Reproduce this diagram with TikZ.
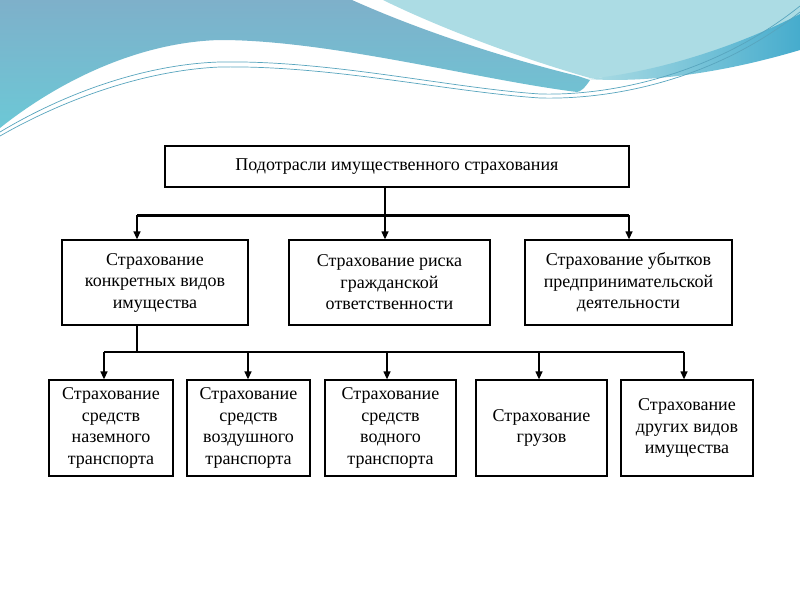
\documentclass[tikz,border=0pt]{standalone}
\usepackage{fontspec}
\setmainfont{Liberation Serif}
\usetikzlibrary{arrows.meta}
\definecolor{waveA}{RGB}{126,176,202}
\definecolor{waveB}{RGB}{108,200,214}
\definecolor{waveC}{RGB}{172,220,228}
\definecolor{waveD}{RGB}{70,172,205}
\definecolor{waveLine}{RGB}{88,165,190}
\begin{document}
\begin{tikzpicture}[x=1pt,y=-1pt,
  box/.style={draw, line width=1.3pt, fill=white, align=center, inner sep=0pt,
    font=\fontsize{18}{21.5}\selectfont},
  arr/.style={line width=1.3pt, -{Triangle[width=7pt,length=8pt]}},
  conn/.style={line width=1.3pt},
  bus/.style={line width=3pt},
  wline/.style={draw=waveLine, line width=0.7pt}]
\useasboundingbox (0,0) rectangle (800,600);
\fill[white] (0,0) rectangle (800,600);
% decorative wave
\shade[top color=waveA, bottom color=waveB]
  (0,0) -- (352,0) .. controls (430,35) and (520,62) .. (578,76)
  -- (590,80) .. controls (585,88) and (580,92) .. (577,92)
  .. controls (480,80) and (330,40) .. (220,40)
  .. controls (140,42) and (60,80) .. (0,128) -- cycle;
\fill[waveC] (383,0) -- (800,0) -- (800,48)
  .. controls (740,62) and (680,76) .. (590,78)
  .. controls (520,58) and (440,28) .. (383,0) -- cycle;
\shade[left color=waveC, right color=waveD]
  (587,79) .. controls (660,72) and (740,45) .. (800,14) -- (800,50)
  .. controls (740,68) and (660,84) .. (587,79) -- cycle;
\draw[wline] (0,132) .. controls (70,90) and (150,64) .. (220,62)
  .. controls (330,60) and (450,88) .. (540,94)
  .. controls (620,96) and (720,70) .. (800,6);
\draw[wline] (0,136) .. controls (70,96) and (150,70) .. (220,67)
  .. controls (330,65) and (450,92) .. (540,98)
  .. controls (620,100) and (720,76) .. (800,12);
% nodes
\node[box, minimum width=464pt, minimum height=41pt] (top) at (397,166.5)
  {Подотрасли имущественного страхования};
\node[box, minimum width=186pt, minimum height=85pt] (m1) at (155,282.5)
  {Страхование\\конкретных видов\\имущества};
\node[box, minimum width=201pt, minimum height=85pt] (m2) at (389.5,282.5)
  {Страхование риска\\гражданской\\ответственности};
\node[box, minimum width=207pt, minimum height=85pt] (m3) at (628.5,282.5)
  {Страхование убытков\\предпринимательской\\деятельности};
\node[box, minimum width=124pt, minimum height=96pt] (b1) at (111,428)
  {Страхование\\средств\\наземного\\транспорта};
\node[box, minimum width=123pt, minimum height=96pt] (b2) at (248.5,428)
  {Страхование\\средств\\воздушного\\транспорта};
\node[box, minimum width=131pt, minimum height=96pt] (b3) at (390.5,428)
  {Страхование\\средств\\водного\\транспорта};
\node[box, minimum width=131pt, minimum height=96pt] (b4) at (541.5,428)
  {Страхование\\грузов};
\node[box, minimum width=132pt, minimum height=96pt] (b5) at (687,428)
  {Страхование\\других видов\\имущества};
% first level connectors
\coordinate (u1) at (137,215);
\coordinate (u2) at (385,215);
\coordinate (u3) at (629,215);
\draw[bus] (u1) -- (u3);
\draw[arr] (top.south -| u2) -- (u2 |- m2.north);
\draw[arr] (u1) -- (u1 |- m1.north);
\draw[arr] (u3) -- (u3 |- m3.north);
% second level connectors
\coordinate (s0) at (137,352);
\coordinate (s1) at (104,352);
\coordinate (s2) at (248,352);
\coordinate (s3) at (387,352);
\coordinate (s4) at (539,352);
\coordinate (s5) at (684,352);
\draw[conn] (m1.south -| s0) -- (s0);
\draw[conn] (s1) -- (s5);
\draw[arr] (s1) -- (s1 |- b1.north);
\draw[arr] (s2) -- (s2 |- b2.north);
\draw[arr] (s3) -- (s3 |- b3.north);
\draw[arr] (s4) -- (s4 |- b4.north);
\draw[arr] (s5) -- (s5 |- b5.north);
\end{tikzpicture}
\end{document}
